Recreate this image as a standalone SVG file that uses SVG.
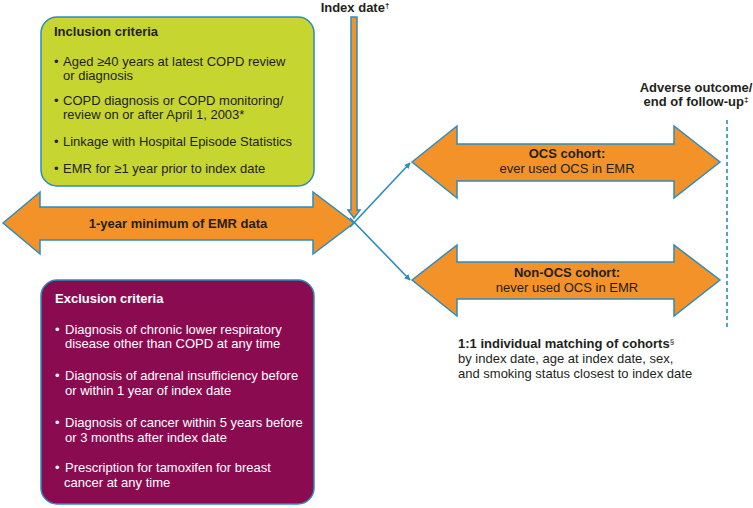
<svg xmlns="http://www.w3.org/2000/svg" width="753" height="508" viewBox="0 0 753 508">
<defs>
<style>
text{font-family:"Liberation Sans",Arial,Helvetica,sans-serif;font-size:13px;fill:#231f20}
.b{font-weight:bold}
.w{fill:#ffffff}
.c{text-anchor:middle}
.arr{fill:#f39229;stroke:#2b8cc0;stroke-width:1.5;stroke-linejoin:miter}
.conn{stroke:#2b8cc0;stroke-width:1.6;fill:none}
.sup{font-size:8px}
</style>
<marker id="ah" viewBox="0 0 10 10" refX="9" refY="5" markerWidth="6" markerHeight="6" orient="auto" markerUnits="userSpaceOnUse">
<path d="M0,0 L10,5 L0,10 z" fill="#2b8cc0"/>
</marker>
</defs>
<rect width="753" height="508" fill="#ffffff"/>

<g id="inclusion">
<rect x="41" y="17" width="273" height="169" rx="16" ry="16" fill="#c6d530" stroke="#2b8cc0" stroke-width="1.5"/>
<text x="54" y="36" class="b">Inclusion criteria</text>
<text x="54" y="66">•</text><text x="63" y="66">Aged ≥40 years at latest COPD review</text>
<text x="63" y="80">or diagnosis</text>
<text x="54" y="105">•</text><text x="63" y="105">COPD diagnosis or COPD monitoring/</text>
<text x="63" y="119">review on or after April 1, 2003*</text>
<text x="54" y="146">•</text><text x="63" y="146">Linkage with Hospital Episode Statistics</text>
<text x="54" y="173">•</text><text x="63" y="173">EMR for ≥1 year prior to index date</text>
</g>

<g id="exclusion">
<rect x="41" y="280" width="273" height="224" rx="16" ry="16" fill="#8b0b51" stroke="#2b8cc0" stroke-width="1.5"/>
<text x="55" y="303" class="b w">Exclusion criteria</text>
<text x="55" y="334" class="w">•</text><text x="65" y="334" class="w">Diagnosis of chronic lower respiratory</text>
<text x="65" y="348" class="w">disease other than COPD at any time</text>
<text x="55" y="380" class="w">•</text><text x="65" y="380" class="w">Diagnosis of adrenal insufficiency before</text>
<text x="65" y="395" class="w">or within 1 year of index date</text>
<text x="55" y="427" class="w">•</text><text x="65" y="427" class="w">Diagnosis of cancer within 5 years before</text>
<text x="65" y="442" class="w">or 3 months after index date</text>
<text x="55" y="472" class="w">•</text><text x="65" y="472" class="w">Prescription for tamoxifen for breast</text>
<text x="64" y="487" class="w">cancer at any time</text>
</g>

<g id="emr-arrow">
<polygon class="arr" points="3,223 40,192 40,207 313,207 313,192 354,223 313,254 313,240 40,240 40,254"/>
<text x="178" y="228" class="b c">1-year minimum of EMR data</text>
</g>

<g id="index-date">
<text x="355" y="12" class="b c">Index date<tspan class="sup" dy="-4">†</tspan></text>
<polygon class="arr" points="351,17 357,17 357,210 360,210 354,218 348,210 351,210"/>
</g>

<g id="ocs-cohort">
<polygon class="arr" points="412,162 457,126 457,144 674,144 674,126 720,162 674,198 674,181 457,181 457,198"/>
<text x="567" y="158" class="b c">OCS cohort:</text>
<text x="567" y="173" class="c">ever used OCS in EMR</text>
</g>

<g id="non-ocs-cohort">
<polygon class="arr" points="412,280 457,245 457,262 674,262 674,245 720,280 674,316 674,299 457,299 457,316"/>
<text x="567" y="277" class="b c">Non-OCS cohort:</text>
<text x="567" y="292" class="c">never used OCS in EMR</text>
</g>

<g id="end-follow-up">
<text x="696" y="92" class="b c">Adverse outcome/</text>
<text x="696" y="106" class="b c">end of follow-up<tspan class="sup" dy="-4">‡</tspan></text>
<line x1="727" y1="120" x2="727" y2="327" stroke="#2b8cc0" stroke-width="1.6" stroke-dasharray="4,3"/>
</g>

<g id="matching">
<text x="458" y="348"><tspan class="b">1:1 individual matching of cohorts</tspan><tspan class="sup" dy="-4">§</tspan></text>
<text x="458" y="363">by index date, age at index date, sex,</text>
<text x="458" y="378">and smoking status closest to index date</text>
</g>

<g id="connectors">
<line class="conn" x1="350" y1="227" x2="410" y2="163" marker-end="url(#ah)"/>
<line class="conn" x1="350" y1="218" x2="410" y2="280" marker-end="url(#ah)"/>
</g>
</svg>
